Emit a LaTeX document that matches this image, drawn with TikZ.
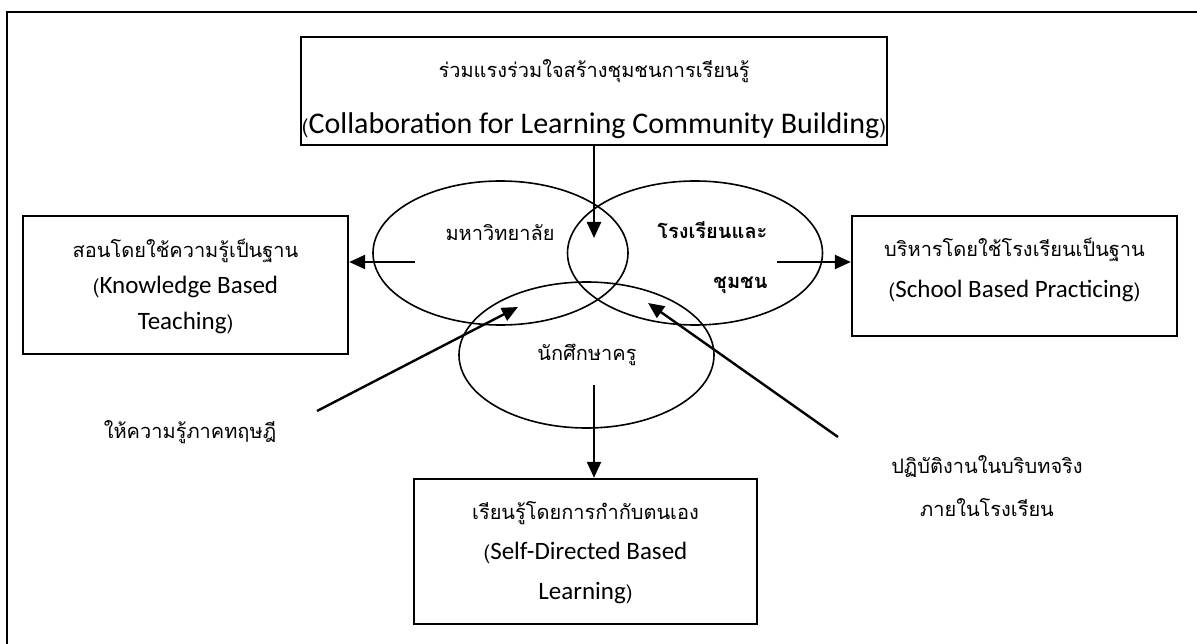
\documentclass[tikz,border=0pt]{standalone}
\usepackage{fontspec}
\setmainfont{Carlito}
\newfontfamily\thaifont[Script=Thai]{Loma}
\usetikzlibrary{arrows.meta,shapes.geometric,positioning}
\tikzset{
  conceptbox/.style={draw,line width=2.4pt,inner sep=0pt},
  boxtext/.style={align=center,inner sep=0pt,font=\fontsize{25}{38}\selectfont},
  ring/.style={ellipse,draw,line width=1.6pt,minimum width=255pt,minimum height=144pt,inner sep=0pt},
  thailabel/.style={font=\thaifont\fontsize{20}{42}\selectfont,align=center},
  flow/.style={->,line width=2.4pt}
}
\newcommand{\thailine}[1]{{\thaifont\fontsize{20}{20}\selectfont #1}}
\newcommand{\lpar}{\thailine{(}}
\newcommand{\rpar}{\thailine{)}}

\begin{document}
\begin{tikzpicture}[x=1pt,y=-1pt,>={Triangle[length=16pt,width=14pt]}]
  \useasboundingbox (0,0) rectangle (1197,644);
  % outer frame
  \draw[line width=1.6pt] (7,644) -- (7,12) -- (1197,12);

  % the four boxes
  \node[conceptbox,minimum width=586pt,minimum height=108pt] (collab) at (594,91) {};
  \node[conceptbox,minimum width=325pt,minimum height=138pt] (knowledge) at (185.5,285) {};
  \node[conceptbox,minimum width=325pt,minimum height=120pt] (school) at (1014.5,276) {};
  \node[conceptbox,minimum width=343pt,minimum height=145pt] (selfdir) at (585.5,551.5) {};

  \node[boxtext,font=\fontsize{30}{56}\selectfont] (collabtxt) at (594,99)
    {\thailine{ร่วมแรงร่วมใจสร้างชุมชนการเรียนรู้}\\\lpar Collaboration for Learning Community Building\rpar};
  \node[boxtext,font=\fontsize{25}{36}\selectfont] (knowtxt) at (185.5,286)
    {\thailine{สอนโดยใช้ความรู้เป็นฐาน}\\\lpar Knowledge Based\\Teaching\rpar};
  \node[boxtext,font=\fontsize{25}{41}\selectfont] (schooltxt) at (1014.5,270)
    {\thailine{บริหารโดยใช้โรงเรียนเป็นฐาน}\\\lpar School Based Practicing\rpar};
  \node[boxtext,font=\fontsize{25}{40}\selectfont] (selftxt) at (585.5,553)
    {\thailine{เรียนรู้โดยการกำกับตนเอง}\\\lpar Self-Directed Based\\Learning\rpar};

  % three overlapping partners
  \node[ring] (uni) at (500.5,253) {};
  \node[ring] (schcom) at (695,253) {};
  \node[ring,minimum height=146pt] (student) at (586.5,355) {};
  \node[thailabel] (unitxt) at (500,233) {มหาวิทยาลัย};
  \node[thailabel,font=\thaifont\bfseries\fontsize{20}{50}\selectfont,align=right,anchor=north east] (schcomtxt) at (771,218) {โรงเรียนและ\\ชุมชน};
  \node[thailabel] (studenttxt) at (587,355) {นักศึกษาครู};

  % side notes
  \node[thailabel] (theory) at (190,432) {ให้ความรู้ภาคทฤษฎี};
  \node[thailabel,font=\thaifont\fontsize{20}{43}\selectfont] (practice) at (987,486) {ปฏิบัติงานในบริบทจริง\\ภายในโรงเรียน};

  % arrow ends
  \coordinate (unistart) at (415,262);
  \coordinate (schstart) at (777,262);
  \coordinate (stdstart) at (594,385);
  \coordinate (topend) at (594,238);
  \coordinate (theorystart) at (317,411);
  \coordinate (theoryend) at (518,307);
  \coordinate (practicestart) at (838,437);
  \coordinate (practiceend) at (648,303);

  \draw[flow] (collab.south -| topend) -- (topend);
  \draw[flow] (unistart) -- (unistart -| knowledge.east);
  \draw[flow] (schstart) -- (schstart -| school.west);
  \draw[flow] (stdstart) -- (stdstart |- selfdir.north);
  \draw[flow] (theorystart) -- (theoryend);
  \draw[flow] (practicestart) -- (practiceend);
\end{tikzpicture}
\end{document}
